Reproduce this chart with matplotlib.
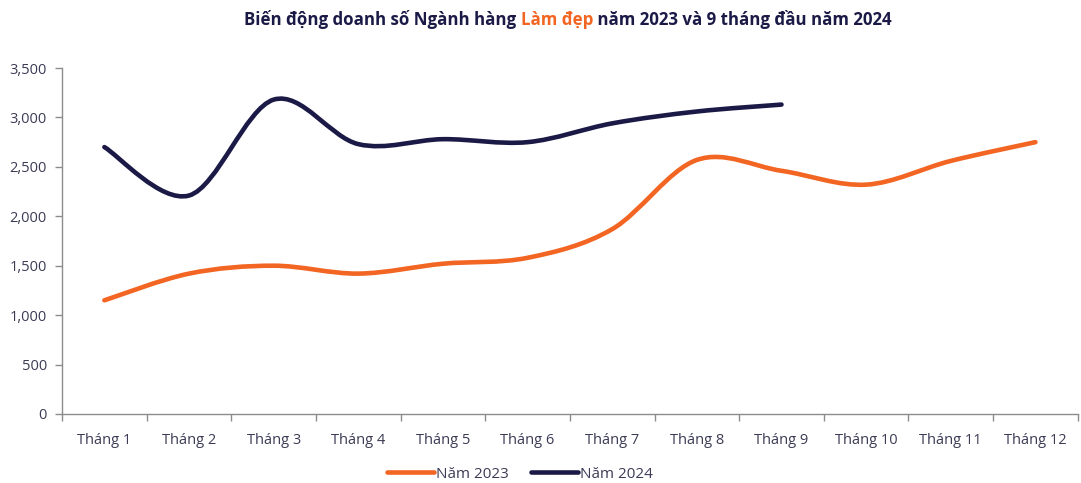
import numpy as np
import matplotlib
matplotlib.use("Agg")
import matplotlib.pyplot as plt
from matplotlib.path import Path
from matplotlib.patches import PathPatch
from matplotlib.lines import Line2D
from matplotlib.ticker import FuncFormatter, FixedLocator

plt.rcParams['font.family'] = ['Open Sans', 'DejaVu Sans']

# doanh số theo tháng
thang = ['Tháng 1', 'Tháng 2', 'Tháng 3', 'Tháng 4', 'Tháng 5', 'Tháng 6',
         'Tháng 7', 'Tháng 8', 'Tháng 9', 'Tháng 10', 'Tháng 11', 'Tháng 12']
nam_2023 = [1150, 1420, 1500, 1420, 1520, 1580, 1870, 2570, 2460, 2320, 2560, 2750]
nam_2024 = [2700, 2210, 3180, 2730, 2780, 2750, 2940, 3060, 3130]

cam = '#F26522'
xanh = '#1B1A47'
chu = '#3B3B55'


def duong_cong(x, y):
    # kiểu "smoothed line" của Excel: bezier bậc 3 theo Catmull-Rom
    pts = np.column_stack([x, y]).astype(float)
    verts = [pts[0]]
    codes = [Path.MOVETO]
    n = len(pts)
    for i in range(n - 1):
        p0 = pts[i - 1] if i > 0 else pts[i]
        p1 = pts[i]
        p2 = pts[i + 1]
        p3 = pts[i + 2] if i + 2 < n else pts[i + 1]
        c1 = p1 + (p2 - p0) / 6.0
        c2 = p2 - (p3 - p1) / 6.0
        verts += [c1, c2, p2]
        codes += [Path.CURVE4] * 3
    return Path(verts, codes)


fig = plt.figure(figsize=(10.81, 4.83), dpi=100)
ax = fig.add_axes([0.0574, 0.1429, 0.9396, 0.7163])

for ys, mau in [(nam_2023, cam), (nam_2024, xanh)]:
    p = duong_cong(np.arange(len(ys)), ys)
    ax.add_patch(PathPatch(p, facecolor='none', edgecolor=mau, lw=3.3,
                           capstyle='round', joinstyle='round'))

ax.set_xlim(-0.5, 11.5)
ax.set_ylim(0, 3500)
ax.set_xticks(range(12))
ax.set_xticklabels(thang)
ax.xaxis.set_minor_locator(FixedLocator(np.arange(-0.5, 12, 1)))
ax.tick_params(axis='x', which='major', length=0, pad=14, labelsize=10.5, labelcolor=chu)
ax.tick_params(axis='x', which='minor', length=5, color='#8C8C8C', width=1)
ax.set_yticks(range(0, 3501, 500))
ax.yaxis.set_major_formatter(FuncFormatter(lambda v, _: f'{int(v):,}'))
ax.tick_params(axis='y', length=5, color='#8C8C8C', width=1, labelsize=10.5,
               labelcolor=chu, pad=6)

for s in ['top', 'right']:
    ax.spines[s].set_visible(False)
for s in ['left', 'bottom']:
    ax.spines[s].set_color('#8C8C8C')
    ax.spines[s].set_linewidth(1)

# chú thích
handles = [Line2D([], [], color=cam, lw=3.3, solid_capstyle='round'),
           Line2D([], [], color=xanh, lw=3.3, solid_capstyle='round')]
fig.legend(handles, ['Năm 2023', 'Năm 2024'], loc='center', ncol=2,
           bbox_to_anchor=(0.481, 0.018), frameon=False, fontsize=11,
           labelcolor=chu, handlelength=3.1, handletextpad=0.15, columnspacing=1.4)

# tiêu đề nhiều màu
phan = [('Biến động doanh số Ngành hàng ', xanh), ('Làm đẹp', cam),
        (' năm 2023 và 9 tháng đầu năm 2024', xanh)]
renderer = fig.canvas.get_renderer()
texts = []
x = 0.0
for s, mau in phan:
    t = fig.text(x, 0.948, s, color=mau, fontsize=12.2, fontweight='bold',
                 ha='left', va='baseline')
    w = t.get_window_extent(renderer).width / fig.bbox.width
    texts.append((t, w))
    x += w
tong = x
x0 = 0.5255 - tong / 2
for t, w in texts:
    t.set_x(x0)
    x0 += w

fig.savefig('out.png', dpi=100)
